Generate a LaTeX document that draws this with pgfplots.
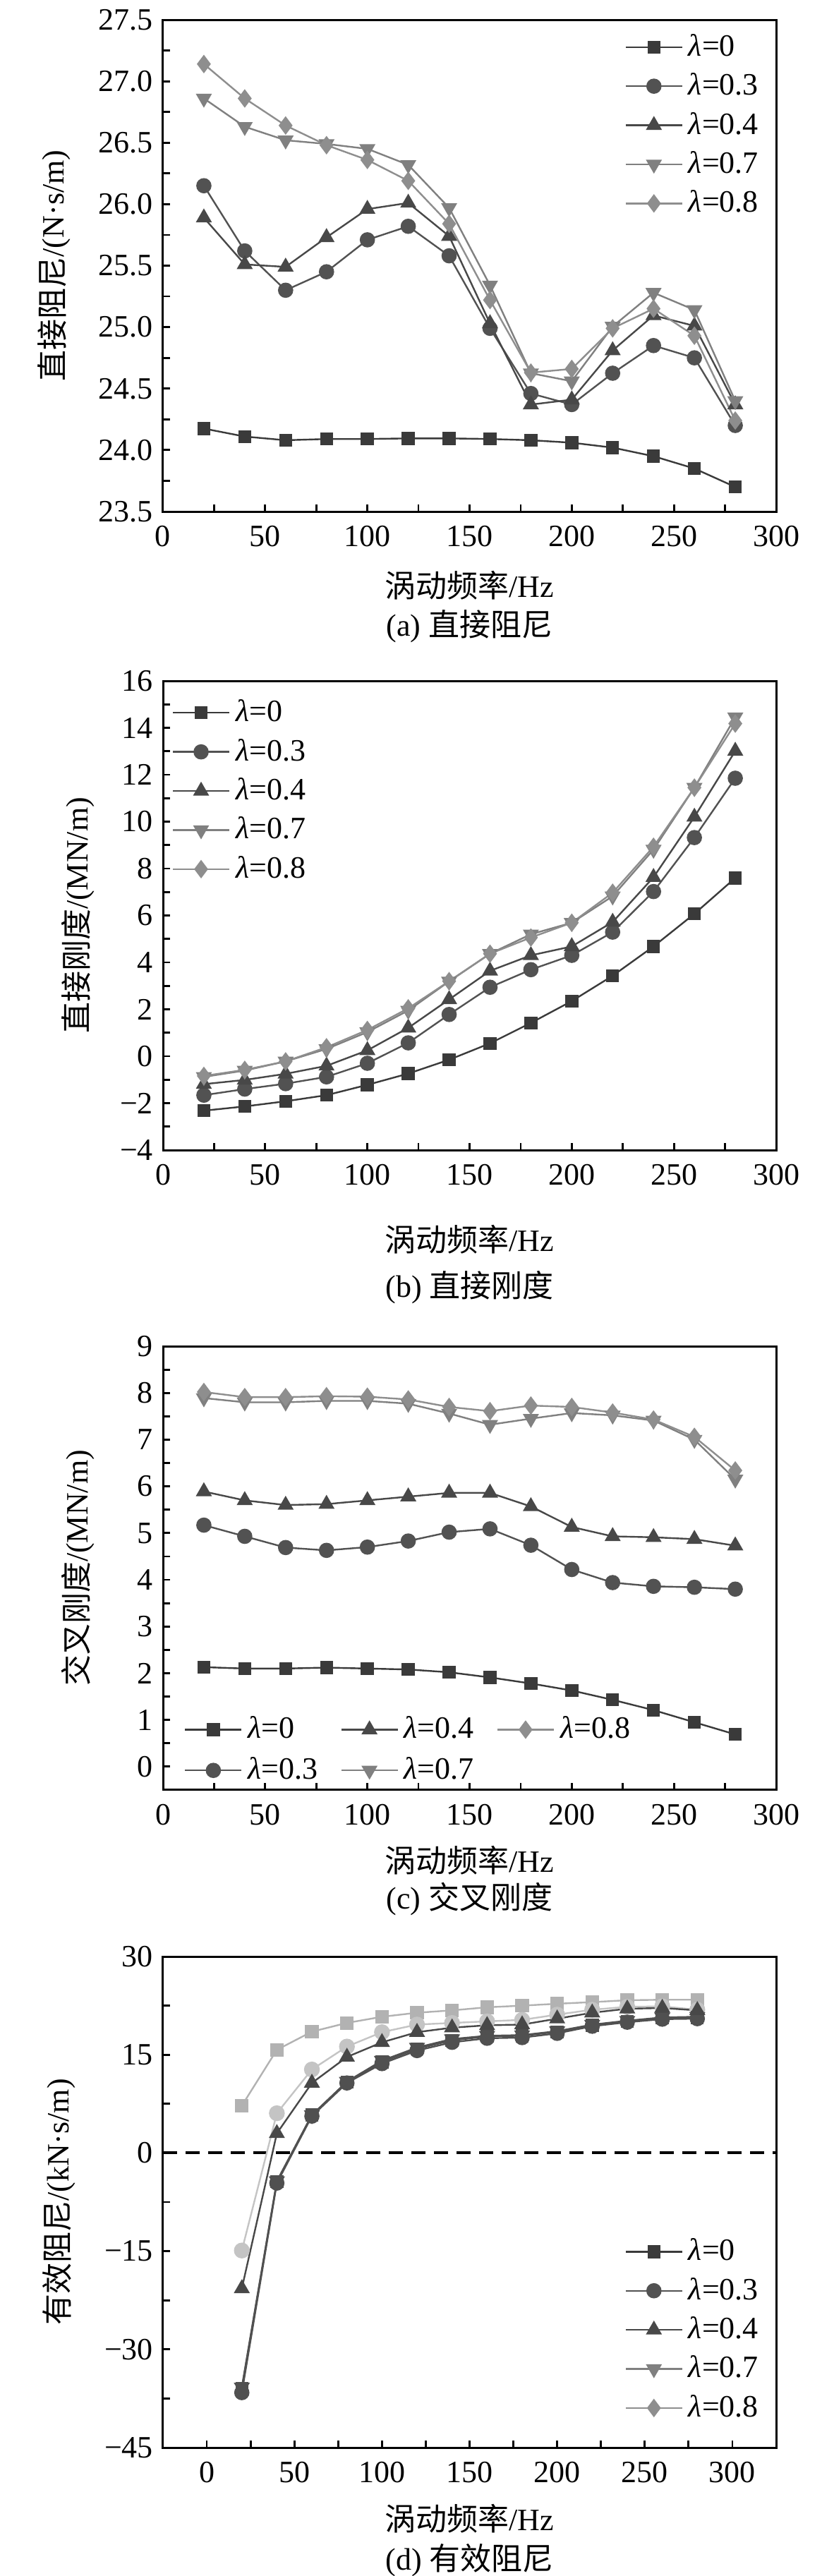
\documentclass[border=0pt]{standalone}
\usepackage{fontspec}
\setmainfont{Liberation Serif}
\newfontfamily\cjk{Noto Sans CJK SC}
\usepackage{pgfplots}
\usepackage{pgfplotstable}
\pgfplotsset{compat=1.18}

\newcommand{\fsz}{\fontsize{11}{13}\selectfont}
\newcommand{\lam}{\textit{λ}}

\definecolor{c0}{RGB}{58,58,58}
\definecolor{c3}{RGB}{82,82,82}
\definecolor{c4}{RGB}{72,72,72}
\definecolor{c7}{RGB}{128,128,128}
\definecolor{c8}{RGB}{142,142,142}
\definecolor{cd}{RGB}{80,80,80}
\definecolor{cls}{RGB}{178,178,178}
\definecolor{clc}{RGB}{196,196,196}

\pgfplotstableread{
f l0 l3 l4 l7 l8
20 24.175 26.15 25.89 26.86 27.14
40 24.11 25.62 25.51 26.63 26.86
60 24.08 25.30 25.49 26.52 26.64
80 24.09 25.45 25.73 26.49 26.48
100 24.09 25.71 25.96 26.45 26.36
120 24.095 25.82 26.01 26.32 26.19
140 24.095 25.58 25.74 25.97 25.84
160 24.09 24.99 25.03 25.34 25.22
180 24.08 24.46 24.37 24.625 24.63
200 24.06 24.37 24.41 24.56 24.66
220 24.02 24.625 24.81 25.005 24.99
240 23.95 24.85 25.095 25.28 25.15
260 23.85 24.75 25.01 25.14 24.93
280 23.70 24.20 24.37 24.40 24.24
}\tabA

\pgfplotstableread{
f l0 l3 l4 l7 l8
20 -2.32 -1.66 -1.19 -0.88 -0.84
40 -2.14 -1.40 -1.01 -0.61 -0.58
60 -1.92 -1.17 -0.75 -0.22 -0.22
80 -1.66 -0.88 -0.41 0.31 0.38
100 -1.22 -0.30 0.25 1.03 1.12
120 -0.74 0.57 1.21 1.95 2.04
140 -0.15 1.78 2.42 3.19 3.20
160 0.55 2.94 3.64 4.37 4.37
180 1.42 3.69 4.30 5.20 5.06
200 2.35 4.30 4.68 5.69 5.69
220 3.43 5.29 5.72 6.82 6.97
240 4.68 7.02 7.63 8.81 8.93
260 6.07 9.32 10.20 11.45 11.45
280 7.60 11.85 13.01 14.45 14.18
}\tabB

\pgfplotstableread{
f l0 l3 l4 l7 l8
20 2.13 5.17 5.89 7.89 8.02
40 2.10 4.93 5.70 7.80 7.91
60 2.10 4.69 5.60 7.80 7.91
80 2.12 4.63 5.62 7.83 7.93
100 2.10 4.70 5.70 7.83 7.92
120 2.08 4.83 5.78 7.77 7.86
140 2.02 5.02 5.86 7.56 7.70
160 1.91 5.09 5.86 7.32 7.61
180 1.78 4.74 5.57 7.45 7.73
200 1.63 4.22 5.13 7.57 7.70
220 1.43 3.94 4.93 7.52 7.58
240 1.21 3.86 4.91 7.41 7.43
260 0.95 3.84 4.87 7.00 7.06
280 0.69 3.80 4.73 6.15 6.34
}\tabC

\pgfplotstableread{
f d0 d3 d4 d7 ls lc
20 -36.0 -36.6 -20.7 -35.8 7.22 -14.9
40 -4.4 -4.6 3.0 -4.3 15.75 6.07
60 5.8 5.63 10.69 5.8 18.53 12.75
80 10.8 10.69 14.66 10.9 19.86 16.25
100 13.9 13.65 16.90 14.1 20.80 18.45
120 15.9 15.64 18.45 16.1 21.42 19.61
140 17.2 16.90 19.14 17.4 21.78 19.86
160 17.8 17.52 19.50 17.9 22.25 20.1
180 17.9 17.62 19.61 18.0 22.50 20.33
200 18.5 18.27 20.51 18.6 22.79 21.13
220 19.5 19.36 21.42 19.6 23.04 21.88
240 20.1 19.97 22.03 20.2 23.33 22.32
260 20.6 20.44 22.14 20.7 23.40 22.39
280 20.7 20.51 21.78 20.8 23.40 21.88
}\tabD

\pgfplotsset{
  myaxis/.style={
    scale only axis, width=217.25pt,
    xmin=0, xmax=300, xtick={0,50,...,300},
    xticklabels={0,50,100,150,200,250,300},
    minor x tick num=1, minor y tick num=1,
    tick align=inside, tick pos=left,
    major tick length=2.6pt, minor tick length=2.6pt,
    axis line style={line width=0.75pt},
    every tick/.style={black, line width=0.7pt},
    tick label style={font=\fsz},
    xticklabel style={yshift=-1.5pt},
    label style={font=\fsz},
    legend style={draw=none, fill=none, font=\fsz, row sep=0.6pt},
    legend cell align=left,
    legend image code/.code={\draw[mark repeat=2,mark phase=2] plot coordinates {(0pt,0pt) (10pt,0pt) (20pt,0pt)};},
    clip=false,
  },
  s0/.style={color=c0, line width=0.6pt, mark=square*, mark size=2pt, mark options={solid}},
  s3/.style={color=c3, line width=0.6pt, mark=*, mark size=2.4pt, mark options={solid}},
  s4/.style={color=c4, line width=0.6pt, mark=triangle*, mark size=2.7pt, mark options={solid}},
  s7/.style={color=c7, line width=0.6pt, mark=triangle*, mark size=2.7pt, mark options={solid,rotate=180}},
  s8/.style={color=c8, line width=0.6pt, mark=diamond*, mark size=2.8pt, mark options={solid}},
}

\begin{document}
\begin{tikzpicture}
\useasboundingbox (0,0) rectangle (295.25pt,-912.75pt);

% (a)
\begin{axis}[myaxis, at={(57.75pt,-7pt)}, anchor=north west, height=174.25pt,
  ymin=23.5, ymax=27.5, ytick={23.5,24,...,27.5},
  yticklabels={23.5,24.0,24.5,25.0,25.5,26.0,26.5,27.0,27.5},
  xlabel={{\cjk 涡动频率}/Hz}, ylabel={{\cjk 直接阻尼}/(N·s/m)},
  xlabel style={at={(axis description cs:0.5,-0.150)}, anchor=center},
  ylabel style={at={(axis description cs:-0.178,0.5)}, anchor=center},
  legend style={at={(0.995,0.995)}, anchor=north east}]
\addplot[s0] table[x=f,y=l0]{\tabA}; \addlegendentry{\lam=0}
\addplot[s3] table[x=f,y=l3]{\tabA}; \addlegendentry{\lam=0.3}
\addplot[s4] table[x=f,y=l4]{\tabA}; \addlegendentry{\lam=0.4}
\addplot[s7] table[x=f,y=l7]{\tabA}; \addlegendentry{\lam=0.7}
\addplot[s8] table[x=f,y=l8]{\tabA}; \addlegendentry{\lam=0.8}
\node[font=\fsz] at (rel axis cs:0.5,-0.233) {(a) {\cjk 直接阻尼}};
\end{axis}

% (b)
\begin{axis}[myaxis, at={(57.75pt,-241.25pt)}, anchor=north west, height=166.25pt,
  ymin=-4, ymax=16, ytick={-4,-2,...,16},
  yticklabels={−4,−2,0,2,4,6,8,10,12,14,16},
  xlabel={{\cjk 涡动频率}/Hz}, ylabel={{\cjk 直接刚度}/(MN/m)},
  xlabel style={at={(axis description cs:0.5,-0.19)}, anchor=center},
  ylabel style={at={(axis description cs:-0.139,0.5)}, anchor=center},
  legend style={at={(0.0,0.985)}, anchor=north west}]
\addplot[s0] table[x=f,y=l0]{\tabB}; \addlegendentry{\lam=0}
\addplot[s3] table[x=f,y=l3]{\tabB}; \addlegendentry{\lam=0.3}
\addplot[s4] table[x=f,y=l4]{\tabB}; \addlegendentry{\lam=0.4}
\addplot[s7] table[x=f,y=l7]{\tabB}; \addlegendentry{\lam=0.7}
\addplot[s8] table[x=f,y=l8]{\tabB}; \addlegendentry{\lam=0.8}
\node[font=\fsz] at (rel axis cs:0.5,-0.292) {(b) {\cjk 直接刚度}};
\end{axis}

% (c)
\begin{axis}[myaxis, at={(57.75pt,-477pt)}, anchor=north west, height=157.25pt,
  ymin=-0.5, ymax=9, ytick={0,1,...,9},
  yticklabels={0,1,2,3,4,5,6,7,8,9},
  xlabel={{\cjk 涡动频率}/Hz}, ylabel={{\cjk 交叉刚度}/(MN/m)},
  xlabel style={at={(axis description cs:0.5,-0.158)}, anchor=center},
  ylabel style={at={(axis description cs:-0.139,0.5)}, anchor=center},
  legend columns=3,
  legend style={at={(0.02,-0.012)}, anchor=south west, row sep=1.2pt,
    /tikz/column sep=0pt,
    /tikz/column 2/.style={column sep=6pt},
    /tikz/column 4/.style={column sep=6pt}}]
\addlegendimage{s0} \addlegendentry{\lam=0}
\addlegendimage{s4} \addlegendentry{\lam=0.4}
\addlegendimage{s8} \addlegendentry{\lam=0.8}
\addlegendimage{s3} \addlegendentry{\lam=0.3}
\addlegendimage{s7} \addlegendentry{\lam=0.7}
\addplot[s0, forget plot] table[x=f,y=l0]{\tabC};
\addplot[s3, forget plot] table[x=f,y=l3]{\tabC};
\addplot[s4, forget plot] table[x=f,y=l4]{\tabC};
\addplot[s7, forget plot] table[x=f,y=l7]{\tabC};
\addplot[s8, forget plot] table[x=f,y=l8]{\tabC};
\node[font=\fsz] at (rel axis cs:0.5,-0.246) {(c) {\cjk 交叉刚度}};
\end{axis}

% (d)
\begin{axis}[myaxis, at={(57.75pt,-693.25pt)}, anchor=north west, height=174pt,
  xmin=-25, xmax=325,
  ymin=-45, ymax=30, ytick={-45,-30,...,30},
  yticklabels={−45,−30,−15,0,15,30},
  xlabel={{\cjk 涡动频率}/Hz}, ylabel={{\cjk 有效阻尼}/(kN·s/m)},
  xlabel style={at={(axis description cs:0.5,-0.145)}, anchor=center},
  ylabel style={at={(axis description cs:-0.170,0.5)}, anchor=center},
  legend style={at={(0.995,0.03)}, anchor=south east}]
\addlegendimage{s0} \addlegendentry{\lam=0}
\addlegendimage{s3} \addlegendentry{\lam=0.3}
\addlegendimage{s4} \addlegendentry{\lam=0.4}
\addlegendimage{s7} \addlegendentry{\lam=0.7}
\addlegendimage{s8} \addlegendentry{\lam=0.8}
\addplot[black, line width=1pt, dash pattern=on 5pt off 3pt, forget plot] coordinates {(-25,0) (325,0)};
\addplot[color=cls, line width=0.6pt, mark=square*, mark size=2.1pt, forget plot] table[x=f,y=ls]{\tabD};
\addplot[color=clc, line width=0.6pt, mark=*, mark size=2.5pt, forget plot] table[x=f,y=lc]{\tabD};
\addplot[color=cd, line width=0.6pt, mark=triangle*, mark size=2.7pt, mark options={rotate=180}, forget plot] table[x=f,y=d7]{\tabD};
\addplot[color=cd, line width=0.6pt, mark=square*, mark size=2pt, forget plot] table[x=f,y=d0]{\tabD};
\addplot[color=cd, line width=0.6pt, mark=*, mark size=2.4pt, forget plot] table[x=f,y=d3]{\tabD};
\addplot[color=c4, line width=0.6pt, mark=triangle*, mark size=2.7pt, forget plot] table[x=f,y=d4]{\tabD};
\node[font=\fsz] at (rel axis cs:0.5,-0.230) {(d) {\cjk 有效阻尼}};
\end{axis}
\end{tikzpicture}
\end{document}
